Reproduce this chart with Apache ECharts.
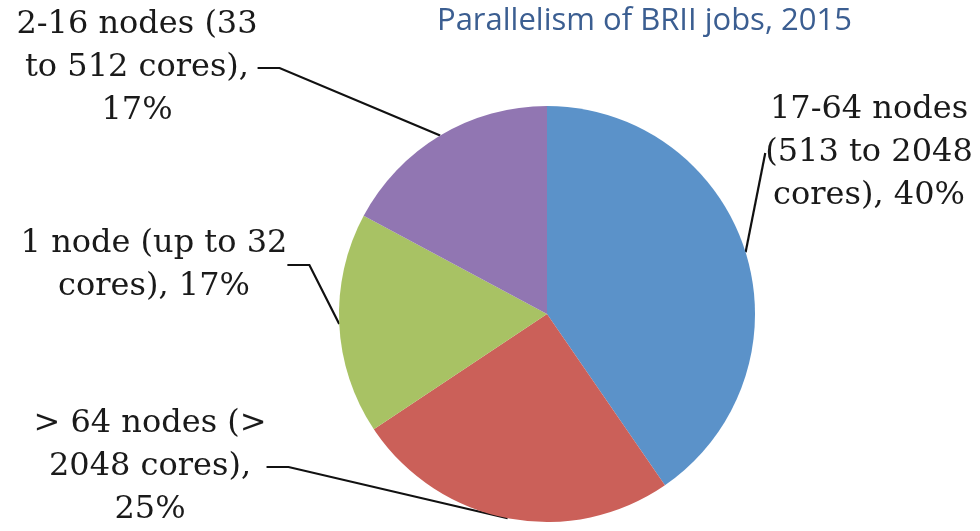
<!DOCTYPE html>
<html>
<head>
<meta charset="utf-8">
<script src="https://cdn.jsdelivr.net/npm/echarts@6/dist/echarts.min.js"></script>
<style>
  html, body { margin: 0; padding: 0; background: #fff; }
  #chart { width: 980px; height: 531px; }
</style>
</head>
<body>
<div id="chart"></div>
<script>
// slices, clockwise from 12 o'clock
var categories = ['17-64 nodes (513 to 2048 cores)', '> 64 nodes (> 2048 cores)', '1 node (up to 32 cores)', '2-16 nodes (33 to 512 cores)'];
var shares = [40, 25, 17, 17];
// label text as broken in the picture, {p} = percent
var labelTexts = [
  '17-64 nodes\n(513 to 2048\ncores), {p}%',
  '> 64 nodes (>\n2048 cores),\n{p}%',
  '1 node (up to 32\ncores), {p}%',
  '2-16 nodes (33\nto 512 cores),\n{p}%'
];
var colors = ['#5b92c9', '#cb6059', '#a8c264', '#9176b2'];

// where each label block sits (centre)
var labelPos = [[869, 153], [150, 467], [154, 265], [137, 68]];

var myChart = echarts.init(document.getElementById('chart'));
myChart.setOption({
  backgroundColor: '#fff',
  animation: false,
  title: {
    text: 'Parallelism of BRII jobs, 2015',
    left: 432,
    top: 1,
    textStyle: {
      color: '#3b5e91',
      fontFamily: 'Open Sans',
      fontWeight: 'normal',
      fontSize: 31
    }
  },
  series: [
    {
      type: 'pie',
      center: [547, 314],
      radius: 208,
      startAngle: 90,
      clockwise: true,
      data: categories.map(function (c, i) {
        var d = { name: c, value: shares[i], itemStyle: { color: colors[i] } };
        // the big slice has a plain straight leader
        if (i === 0) d.labelLine = { length2: 0 };
        return d;
      }),
      itemStyle: { borderWidth: 0 },
      label: {
        show: true,
        position: 'outside',
        formatter: function (p) {
          return labelTexts[p.dataIndex].replace('{p}', Math.round(p.percent));
        },
        fontFamily: 'DejaVu Serif',
        fontSize: 32,
        lineHeight: 43,
        color: '#1a1a1a',
        align: 'center',
        overflow: 'none'
      },
      labelLine: {
        show: true,
        length: 20,
        length2: 22,
        lineStyle: { color: '#111', width: 2.2 }
      },
      labelLayout: function (params) {
        var pos = labelPos[params.dataIndex];
        return {
          x: pos[0],
          y: pos[1],
          align: 'center',
          verticalAlign: 'middle'
        };
      }
    }
  ]
});
</script>
</body>
</html>
